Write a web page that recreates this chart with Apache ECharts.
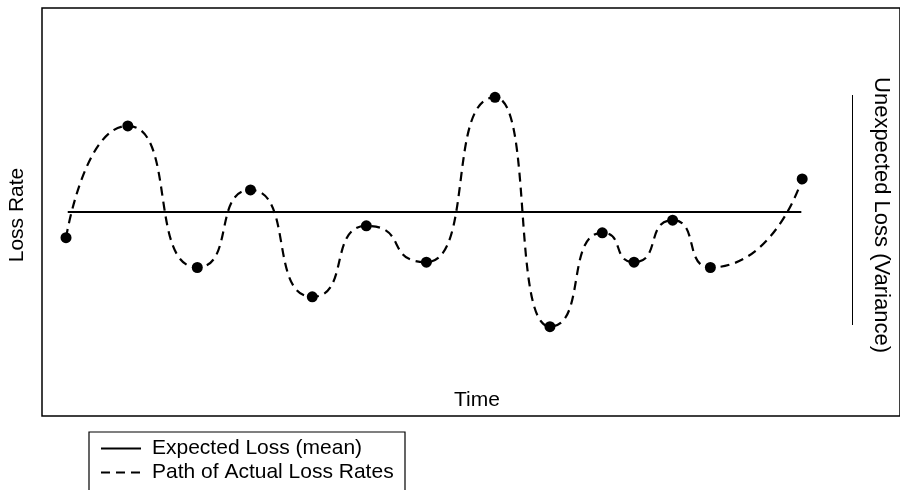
<!DOCTYPE html>
<html>
<head>
<meta charset="utf-8">
<script src="https://cdn.jsdelivr.net/npm/echarts@6/dist/echarts.min.js"></script>
<style>html,body{margin:0;padding:0;background:#fff;}#c{width:900px;height:490px;}</style>
</head>
<body>
<div id="c"></div>
<script>
// Time positions (arbitrary units) and observed loss rates (arbitrary units)
const timePoints = [2.8, 10.0, 18.1, 24.3, 31.5, 37.8, 44.8, 52.8, 59.2, 65.3, 69.0, 73.5, 77.9, 88.6];
const lossRates  = [43.7, 71.1, 36.4, 55.4, 29.2, 46.6, 37.7, 78.1, 21.9, 44.9, 37.7, 48.0, 36.4, 58.1];
const meanStart = 3.0, meanEnd = 88.5, meanLoss = 50;
const seriesNames = ['Expected Loss (mean)', 'Path of Actual Loss Rates'];

const pathData = timePoints.map((t, i) => [t, lossRates[i]]);
const meanData = [[meanStart, meanLoss], [meanEnd, meanLoss]];
const FONT = 'Liberation Sans, Arial, sans-serif';

const chart = echarts.init(document.getElementById('c'), null, {renderer: 'canvas'});
chart.setOption({
  animation: false,
  backgroundColor: '#fff',
  grid: {left: 42, top: 8, width: 860, height: 408, show: true, borderColor: '#000', borderWidth: 1.5, backgroundColor: 'transparent'},
  xAxis: {type: 'value', min: 0, max: 100, show: false},
  yAxis: {type: 'value', min: 0, max: 100, show: false},
  legend: {
    data: seriesNames, orient: 'vertical', left: 100, top: 438, padding: 0,
    itemWidth: 40, itemHeight: 12, itemGap: 3,
    itemStyle: {opacity: 0, borderWidth: 0},
    textStyle: {fontFamily: FONT, fontSize: 21, color: '#000', padding: [0, 0, 0, 6]}
  },
  graphic: [
    {type: 'rect', shape: {x: 89, y: 432, width: 316, height: 80}, style: {fill: 'none', stroke: '#000', lineWidth: 1.2}},
    {type: 'text', x: 17, y: 215, rotation: Math.PI / 2, style: {text: 'Loss Rate', font: '21px ' + FONT, fill: '#000', textAlign: 'center', textVerticalAlign: 'middle'}},
    {type: 'text', x: 477, y: 400, style: {text: 'Time', font: '21px ' + FONT, fill: '#000', textAlign: 'center', textVerticalAlign: 'middle'}},
    {type: 'text', x: 881, y: 215, rotation: -Math.PI / 2, style: {text: 'Unexpected Loss (Variance)', font: '22px ' + FONT, fill: '#000', textAlign: 'center', textVerticalAlign: 'middle'}},
    {type: 'line', shape: {x1: 852.5, y1: 95, x2: 852.5, y2: 325}, style: {stroke: '#000', lineWidth: 1}}
  ],
  series: [
    {name: seriesNames[0], type: 'line', data: meanData, symbol: 'none', lineStyle: {color: '#000', width: 2.2}, itemStyle: {color: '#000'}},
    {name: seriesNames[1], type: 'line', data: pathData, symbol: 'none', smooth: 0.7, smoothMonotone: 'x',
     lineStyle: {color: '#000', width: 2.2, type: [9, 6]}, itemStyle: {color: '#000'}},
    {name: 'points', type: 'scatter', data: pathData, symbol: 'circle', symbolSize: 11, itemStyle: {color: '#000', opacity: 1}, z: 5}
  ]
});
</script>
</body>
</html>
